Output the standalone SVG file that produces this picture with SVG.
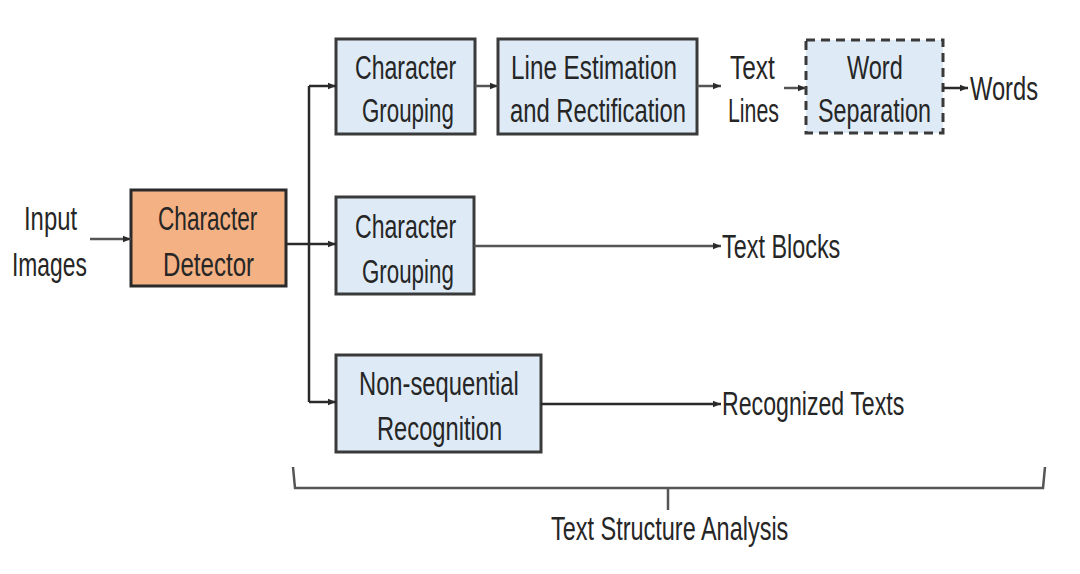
<svg xmlns="http://www.w3.org/2000/svg" width="1080" height="574" viewBox="0 0 1080 574">
<style>
text{font-family:"Liberation Sans",Arial,sans-serif;font-size:33px;fill:#262626}
.box{fill:#DEEBF7;stroke:#3a3a3a;stroke-width:3}
.det{fill:#F4B183;stroke:#2a2a2a;stroke-width:3}
.dash{stroke-dasharray:9 6}
.ln{fill:none;stroke:#2a2a2a;stroke-width:2.5}
.gr{fill:none;stroke:#555;stroke-width:2.5}
</style>
<defs>
<marker id="ah" viewBox="0 0 10 10" refX="10" refY="5" markerWidth="8" markerHeight="8" markerUnits="userSpaceOnUse" orient="auto">
<path d="M0,1 L10,5 L0,9 Z" fill="#2a2a2a"/>
</marker>
</defs>
<rect width="1080" height="574" fill="#ffffff"/>
<g id="input">
<text transform="translate(24,230) scale(0.68,1)" textLength="78" lengthAdjust="spacingAndGlyphs">Input</text>
<text transform="translate(12,276) scale(0.68,1)" textLength="110" lengthAdjust="spacingAndGlyphs">Images</text>
</g>
<g id="detector">
<rect class="det" x="131" y="190" width="155" height="96"/>
<text transform="translate(158,230) scale(0.68,1)" textLength="146" lengthAdjust="spacingAndGlyphs">Character</text>
<text transform="translate(163,276) scale(0.68,1)" textLength="134" lengthAdjust="spacingAndGlyphs">Detector</text>
</g>
<g id="grouping1">
<rect class="box" x="336" y="39" width="139" height="95"/>
<text transform="translate(355,79) scale(0.68,1)" textLength="149" lengthAdjust="spacingAndGlyphs">Character</text>
<text transform="translate(362,122) scale(0.68,1)" textLength="135" lengthAdjust="spacingAndGlyphs">Grouping</text>
</g>
<g id="lineest">
<rect class="box" x="498" y="39" width="199" height="95"/>
<text transform="translate(511,79) scale(0.68,1)" textLength="244" lengthAdjust="spacingAndGlyphs">Line Estimation</text>
<text transform="translate(510,122) scale(0.68,1)" textLength="259" lengthAdjust="spacingAndGlyphs">and Rectification</text>
</g>
<g id="textlines">
<text transform="translate(730,79) scale(0.68,1)" textLength="66" lengthAdjust="spacingAndGlyphs">Text</text>
<text transform="translate(728,122) scale(0.68,1)" textLength="75" lengthAdjust="spacingAndGlyphs">Lines</text>
</g>
<g id="wordsep">
<rect class="box dash" x="806" y="40" width="137" height="93"/>
<text transform="translate(847,79) scale(0.68,1)" textLength="82" lengthAdjust="spacingAndGlyphs">Word</text>
<text transform="translate(818,122) scale(0.68,1)" textLength="166" lengthAdjust="spacingAndGlyphs">Separation</text>
</g>
<g id="words">
<text transform="translate(970,100) scale(0.68,1)" textLength="100" lengthAdjust="spacingAndGlyphs">Words</text>
</g>
<g id="grouping2">
<rect class="box" x="336" y="197" width="138" height="97"/>
<text transform="translate(355,238) scale(0.68,1)" textLength="149" lengthAdjust="spacingAndGlyphs">Character</text>
<text transform="translate(362,283) scale(0.68,1)" textLength="135" lengthAdjust="spacingAndGlyphs">Grouping</text>
</g>
<g id="textblocks">
<text transform="translate(722,258) scale(0.68,1)" textLength="174" lengthAdjust="spacingAndGlyphs">Text Blocks</text>
</g>
<g id="nonseq">
<rect class="box" x="336" y="355" width="205" height="97"/>
<text transform="translate(359,395) scale(0.68,1)" textLength="235" lengthAdjust="spacingAndGlyphs">Non-sequential</text>
<text transform="translate(377,440) scale(0.68,1)" textLength="184" lengthAdjust="spacingAndGlyphs">Recognition</text>
</g>
<g id="recognized">
<text transform="translate(722,415) scale(0.68,1)" textLength="268" lengthAdjust="spacingAndGlyphs">Recognized Texts</text>
</g>
<g id="analysis">
<path class="gr" d="M293,467 L295,488 L1043,488 L1045,467 M668,488 L668,510"/>
<text transform="translate(551,540) scale(0.68,1)" textLength="349" lengthAdjust="spacingAndGlyphs">Text Structure Analysis</text>
</g>
<g id="connectors">
<path class="gr" d="M90,239 L131,239" marker-end="url(#ah)"/>
<path class="ln" d="M286,244 L309,244"/>
<path class="ln" d="M309,86 L309,402"/>
<path class="ln" d="M309,86 L336,86" marker-end="url(#ah)"/>
<path class="ln" d="M309,244 L336,244" marker-end="url(#ah)"/>
<path class="ln" d="M309,402 L336,402" marker-end="url(#ah)"/>
<path class="gr" d="M475,86 L498,86" marker-end="url(#ah)"/>
<path class="gr" d="M697,86 L721,86" marker-end="url(#ah)"/>
<path class="gr" d="M784,88 L806,88" marker-end="url(#ah)"/>
<path class="ln" d="M943,88 L968,88" marker-end="url(#ah)"/>
<path class="gr" d="M474,246 L721,246" marker-end="url(#ah)"/>
<path class="ln" d="M541,404 L721,404" marker-end="url(#ah)"/>
</g>
</svg>
